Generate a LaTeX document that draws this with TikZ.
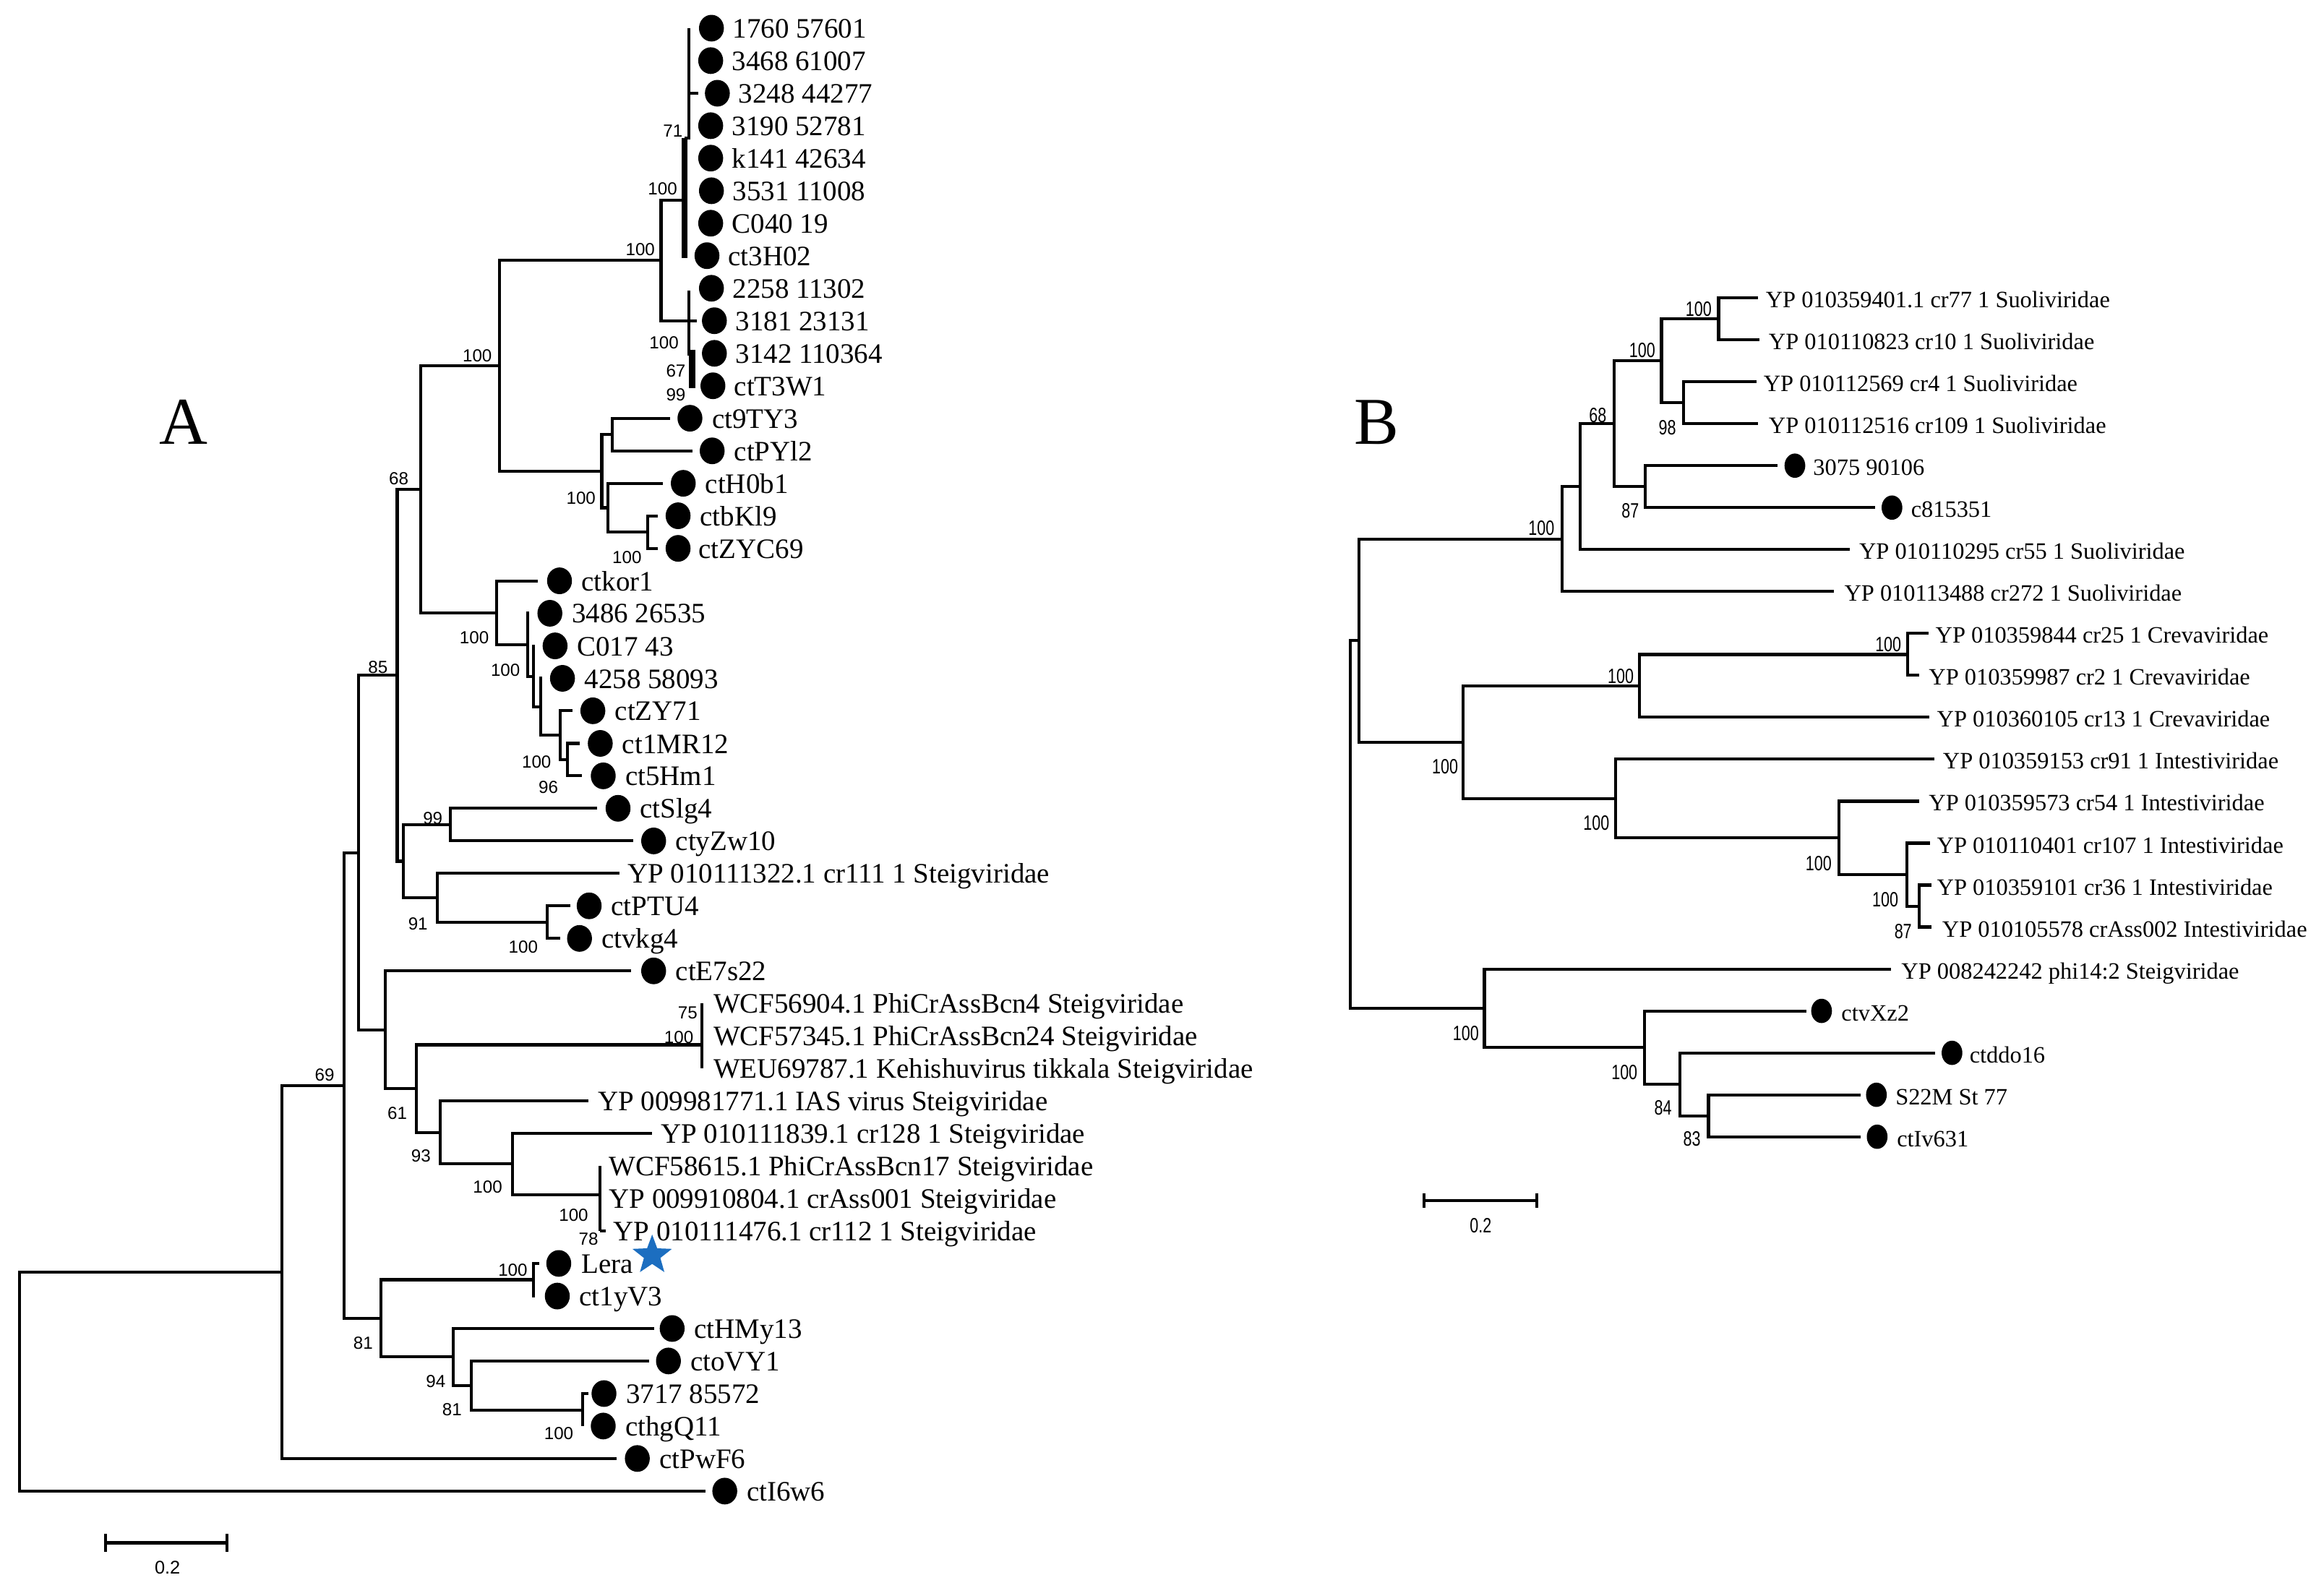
\documentclass[tikz,border=0pt]{standalone}
\usepackage{fontspec}
\setmainfont{Liberation Serif}
\newfontfamily\bootfont{Liberation Sans}
\newfontfamily\bootfontnarrow[FakeStretch=0.75]{Liberation Sans}
\usetikzlibrary{shapes.geometric}
\definecolor{starblue}{RGB}{28,110,192}

\begin{document}
\begin{tikzpicture}[x=0.5pt,y=-0.5pt]
    % Define the styles for the branches, tips and labels
    \tikzstyle{branch}=[line width=1pt]
    \tikzstyle{thickbranch}=[line width=2pt]
    \tikzstyle{tipdot}=[ellipse, fill=black, inner sep=0pt, minimum width=8.4pt, minimum height=9pt]
    \tikzstyle{tipdotb}=[ellipse, fill=black, inner sep=0pt, minimum width=7pt, minimum height=8.2pt]
    \tikzstyle{taxon}=[anchor=west, inner sep=0pt, text height=0.66em, text depth=0pt, font=\fontsize{9.5}{10}\selectfont]
    \tikzstyle{taxonb}=[anchor=west, inner sep=0pt, text height=0.66em, text depth=0pt, font=\fontsize{7.9}{9}\selectfont]
    \tikzstyle{boot}=[inner sep=0pt, text height=0.72em, text depth=0pt, font=\bootfont\fontsize{5.9}{6}\selectfont]
    \tikzstyle{bootb}=[inner sep=0pt, text height=0.72em, text depth=0pt, font=\bootfontnarrow\fontsize{7}{7}\selectfont]
    \tikzstyle{panel}=[inner sep=0pt, font=\fontsize{22.6}{24}\selectfont]

    \useasboundingbox (0,0) rectangle (1568,1071.5);

    % Panel letters
    \node[panel] (panel_a) at (124,285) {A};
    \node[panel] (panel_b) at (929,285) {B};

    % Tree A: internal nodes
    \coordinate (root_a) at (13,932.2);
    \coordinate (a_ingroup) at (190,858.3);
    \coordinate (a_b69) at (232,732.5);
    \coordinate (a_upper) at (242,575.3);
    \coordinate (a_b85) at (268,455.6);
    \coordinate (a_b68) at (284,330.1);
    \coordinate (a_top) at (337,246.7);
    \coordinate (a_crown) at (446,175.5);
    \coordinate (a_crown_up) at (462,135);
    \coordinate (a_crown_lo) at (465,216.4);
    \coordinate (a_py) at (406,317.9);
    \coordinate (a_py1) at (413,293.2);
    \coordinate (a_py2) at (410,342.6);
    \coordinate (a_bk) at (437,359.0);
    \coordinate (a_kor) at (335,413.5);
    \coordinate (a_kor1) at (356,435.1);
    \coordinate (a_kor2) at (360,456.4);
    \coordinate (a_kor3) at (365,476.9);
    \coordinate (a_kor4) at (378,496.1);
    \coordinate (a_kor5) at (383,512.6);
    \coordinate (a_slg) at (272,581.1);
    \coordinate (a_slg1) at (304,556.4);
    \coordinate (a_b91) at (295,605.8);
    \coordinate (a_vk) at (369,622.2);
    \coordinate (a_e7) at (260,694.9);
    \coordinate (a_b61) at (281,734.6);
    \coordinate (a_phi) at (473.5,705);
    \coordinate (a_b93) at (297,764.2);
    \coordinate (a_crass) at (346,785.4);
    \coordinate (a_crass1) at (405,806);
    \coordinate (a_b81) at (257,889.6);
    \coordinate (a_lera) at (360,863.5);
    \coordinate (a_b94) at (306,915.6);
    \coordinate (a_b81b) at (318,934.8);
    \coordinate (a_hg) at (393,951.3);

    % Tree A: tips
    \coordinate (c71_top) at (465,19.0);
    \coordinate (c71_mid) at (465,62.9);
    \coordinate (c71_base) at (462,93);
    \coordinate (crown_up_end) at (462,174);
    \coordinate (s3248_44277_tip) at (471,62.9);
    \coordinate (crown_lo_top) at (465,196);
    \coordinate (crown_lo_mid) at (465,240);
    \coordinate (crown_lo_thick) at (467,236);
    \coordinate (crown_lo_end) at (467,262);
    \coordinate (s3181_23131_tip) at (470,216.4);
    \coordinate (ct9TY3_tip) at (452,282.2);
    \coordinate (ctPYl2_tip) at (467,304.2);
    \coordinate (ctH0b1_tip) at (447,326.1);
    \coordinate (ctbKl9_tip) at (444,348.0);
    \coordinate (ctZYC69_tip) at (444,370.0);
    \coordinate (ctkor1_tip) at (363,391.9);
    \coordinate (s3486_26535_tip) at (357,413.8);
    \coordinate (C017_43_tip) at (361,435.8);
    \coordinate (s4258_58093_tip) at (366,457.7);
    \coordinate (ctZY71_tip) at (386.5,479.6);
    \coordinate (ct1MR12_tip) at (391,501.6);
    \coordinate (ct5Hm1_tip) at (392.5,523.5);
    \coordinate (ctSlg4_tip) at (403,545.4);
    \coordinate (ctyZw10_tip) at (427,567.4);
    \coordinate (cr111_tip) at (418,589.3);
    \coordinate (ctPTU4_tip) at (385,611.2);
    \coordinate (ctvkg4_tip) at (378,633.2);
    \coordinate (ctE7s22_tip) at (426,655.1);
    \coordinate (bcn4_tip) at (473.5,677.1);
    \coordinate (tikkala_tip) at (473.5,720.9);
    \coordinate (ias_tip) at (397,742.9);
    \coordinate (cr128_tip) at (440,764.8);
    \coordinate (bcn17_tip) at (405,786.7);
    \coordinate (cr112_base) at (405,830.6);
    \coordinate (cr112_tip) at (408.5,830.6);
    \coordinate (Lera_tip) at (364,852.5);
    \coordinate (ct1yV3_tip) at (361,874.5);
    \coordinate (ctHMy13_tip) at (441.5,896.4);
    \coordinate (ctoVY1_tip) at (438,918.3);
    \coordinate (s3717_85572_tip) at (397,940.3);
    \coordinate (cthgQ11_tip) at (393,962.2);
    \coordinate (ctPwF6_tip) at (416,984.1);
    \coordinate (ctI6w6_tip) at (476,1006.1);

    % Draw the branches of tree A
    \draw[branch] (root_a) |- (a_ingroup);
    \draw[branch] (root_a) |- (ctI6w6_tip);
    \draw[branch] (a_ingroup) |- (a_b69);
    \draw[branch] (a_ingroup) |- (ctPwF6_tip);
    \draw[branch] (a_b69) |- (a_upper);
    \draw[branch] (a_b69) |- (a_b81);
    \draw[branch] (a_upper) |- (a_b85);
    \draw[branch] (a_upper) |- (a_e7);
    \draw[branch] (a_b85) |- (a_b68);
    \draw[branch] (a_b85) |- (a_slg);
    \draw[branch] (a_b68) |- (a_top);
    \draw[branch] (a_b68) |- (a_kor);
    \draw[branch] (a_top) |- (a_crown);
    \draw[branch] (a_top) |- (a_py);
    \draw[branch] (a_crown) |- (a_crown_up);
    \draw[branch] (a_crown) |- (a_crown_lo);
    \draw[thickbranch] (c71_base) -- (crown_up_end);
    \draw[branch] (c71_top) |- (c71_base);
    \draw[branch] (c71_mid) -- (s3248_44277_tip);
    \draw[branch] (crown_lo_top) -- (crown_lo_mid);
    \draw[thickbranch] (crown_lo_thick) -- (crown_lo_end);
    \draw[branch] (a_crown_lo) -- (s3181_23131_tip);
    \draw[branch] (a_py) |- (a_py1);
    \draw[branch] (a_py) |- (a_py2);
    \draw[branch] (a_py1) |- (ct9TY3_tip);
    \draw[branch] (a_py1) |- (ctPYl2_tip);
    \draw[branch] (a_py2) |- (ctH0b1_tip);
    \draw[branch] (a_py2) |- (a_bk);
    \draw[branch] (a_bk) |- (ctbKl9_tip);
    \draw[branch] (a_bk) |- (ctZYC69_tip);
    \draw[branch] (a_kor) |- (ctkor1_tip);
    \draw[branch] (a_kor) |- (a_kor1);
    \draw[branch] (a_kor1) |- (s3486_26535_tip);
    \draw[branch] (a_kor1) |- (a_kor2);
    \draw[branch] (a_kor2) |- (C017_43_tip);
    \draw[branch] (a_kor2) |- (a_kor3);
    \draw[branch] (a_kor3) |- (s4258_58093_tip);
    \draw[branch] (a_kor3) |- (a_kor4);
    \draw[branch] (a_kor4) |- (ctZY71_tip);
    \draw[branch] (a_kor4) |- (a_kor5);
    \draw[branch] (a_kor5) |- (ct1MR12_tip);
    \draw[branch] (a_kor5) |- (ct5Hm1_tip);
    \draw[branch] (a_slg) |- (a_slg1);
    \draw[branch] (a_slg) |- (a_b91);
    \draw[branch] (a_slg1) |- (ctSlg4_tip);
    \draw[branch] (a_slg1) |- (ctyZw10_tip);
    \draw[branch] (a_b91) |- (cr111_tip);
    \draw[branch] (a_b91) |- (a_vk);
    \draw[branch] (a_vk) |- (ctPTU4_tip);
    \draw[branch] (a_vk) |- (ctvkg4_tip);
    \draw[branch] (a_e7) |- (ctE7s22_tip);
    \draw[branch] (a_e7) |- (a_b61);
    \draw[branch] (a_b61) |- (a_phi);
    \draw[branch] (a_b61) |- (a_b93);
    \draw[branch] (bcn4_tip) -- (tikkala_tip);
    \draw[branch] (a_b93) |- (ias_tip);
    \draw[branch] (a_b93) |- (a_crass);
    \draw[branch] (a_crass) |- (cr128_tip);
    \draw[branch] (a_crass) |- (a_crass1);
    \draw[branch] (bcn17_tip) -- (cr112_base);
    \draw[branch] (cr112_base) -- (cr112_tip);
    \draw[branch] (a_b81) |- (a_lera);
    \draw[branch] (a_b81) |- (a_b94);
    \draw[branch] (a_lera) |- (Lera_tip);
    \draw[branch] (a_lera) |- (ct1yV3_tip);
    \draw[branch] (a_b94) |- (ctHMy13_tip);
    \draw[branch] (a_b94) |- (a_b81b);
    \draw[branch] (a_b81b) |- (ctoVY1_tip);
    \draw[branch] (a_b81b) |- (a_hg);
    \draw[branch] (a_hg) |- (s3717_85572_tip);
    \draw[branch] (a_hg) |- (cthgQ11_tip);

    % Draw the tips of tree A
    \node[tipdot] (s1760_57601) at (480,19.0) {};
    \node[taxon] (s1760_57601_label) at (494,19.0) {1760 57601};
    \node[tipdot] (s3468_61007) at (479.5,40.9) {};
    \node[taxon] (s3468_61007_label) at (493.5,40.9) {3468 61007};
    \node[tipdot] (s3248_44277) at (484,62.9) {};
    \node[taxon] (s3248_44277_label) at (498,62.9) {3248 44277};
    \node[tipdot] (s3190_52781) at (479.5,84.8) {};
    \node[taxon] (s3190_52781_label) at (493.5,84.8) {3190 52781};
    \node[tipdot] (k141_42634) at (479.5,106.7) {};
    \node[taxon] (k141_42634_label) at (493.5,106.7) {k141 42634};
    \node[tipdot] (s3531_11008) at (480,128.7) {};
    \node[taxon] (s3531_11008_label) at (494,128.7) {3531 11008};
    \node[tipdot] (C040_19) at (479.5,150.6) {};
    \node[taxon] (C040_19_label) at (493.5,150.6) {C040 19};
    \node[tipdot] (ct3H02) at (477,172.5) {};
    \node[taxon] (ct3H02_label) at (491,172.5) {ct3H02};
    \node[tipdot] (s2258_11302) at (480,194.5) {};
    \node[taxon] (s2258_11302_label) at (494,194.5) {2258 11302};
    \node[tipdot] (s3181_23131) at (482,216.4) {};
    \node[taxon] (s3181_23131_label) at (496,216.4) {3181 23131};
    \node[tipdot] (s3142_110364) at (482,238.4) {};
    \node[taxon] (s3142_110364_label) at (496,238.4) {3142 110364};
    \node[tipdot] (ctT3W1) at (481,260.3) {};
    \node[taxon] (ctT3W1_label) at (495,260.3) {ctT3W1};
    \node[tipdot] (ct9TY3) at (465.5,282.2) {};
    \node[taxon] (ct9TY3_label) at (480,282.2) {ct9TY3};
    \node[tipdot] (ctPYl2) at (480.5,304.2) {};
    \node[taxon] (ctPYl2_label) at (495,304.2) {ctPYl2};
    \node[tipdot] (ctH0b1) at (461,326.1) {};
    \node[taxon] (ctH0b1_label) at (475.5,326.1) {ctH0b1};
    \node[tipdot] (ctbKl9) at (457.5,348.0) {};
    \node[taxon] (ctbKl9_label) at (472,348.0) {ctbKl9};
    \node[tipdot] (ctZYC69) at (457.5,370.0) {};
    \node[taxon] (ctZYC69_label) at (471,370.0) {ctZYC69};
    \node[tipdot] (ctkor1) at (377.5,391.9) {};
    \node[taxon] (ctkor1_label) at (392,391.9) {ctkor1};
    \node[tipdot] (s3486_26535) at (371,413.8) {};
    \node[taxon] (s3486_26535_label) at (385.5,413.8) {3486 26535};
    \node[tipdot] (C017_43) at (374.5,435.8) {};
    \node[taxon] (C017_43_label) at (389,435.8) {C017 43};
    \node[tipdot] (s4258_58093) at (379.5,457.7) {};
    \node[taxon] (s4258_58093_label) at (394,457.7) {4258 58093};
    \node[tipdot] (ctZY71) at (400,479.6) {};
    \node[taxon] (ctZY71_label) at (414.5,479.6) {ctZY71};
    \node[tipdot] (ct1MR12) at (405,501.6) {};
    \node[taxon] (ct1MR12_label) at (419.5,501.6) {ct1MR12};
    \node[tipdot] (ct5Hm1) at (407,523.5) {};
    \node[taxon] (ct5Hm1_label) at (421.5,523.5) {ct5Hm1};
    \node[tipdot] (ctSlg4) at (417,545.4) {};
    \node[taxon] (ctSlg4_label) at (431.5,545.4) {ctSlg4};
    \node[tipdot] (ctyZw10) at (441,567.4) {};
    \node[taxon] (ctyZw10_label) at (455.5,567.4) {ctyZw10};
    \node[taxon] (cr111_label) at (423,589.3) {YP 010111322.1 cr111 1 Steigviridae};
    \node[tipdot] (ctPTU4) at (397.5,611.2) {};
    \node[taxon] (ctPTU4_label) at (412,611.2) {ctPTU4};
    \node[tipdot] (ctvkg4) at (391,633.2) {};
    \node[taxon] (ctvkg4_label) at (405.5,633.2) {ctvkg4};
    \node[tipdot] (ctE7s22) at (441,655.1) {};
    \node[taxon] (ctE7s22_label) at (455.5,655.1) {ctE7s22};
    \node[taxon] (bcn4_label) at (481,677.1) {WCF56904.1 PhiCrAssBcn4 Steigviridae};
    \node[taxon] (bcn24_label) at (481,699.0) {WCF57345.1 PhiCrAssBcn24 Steigviridae};
    \node[taxon] (tikkala_label) at (481,720.9) {WEU69787.1 Kehishuvirus tikkala Steigviridae};
    \node[taxon] (ias_label) at (403,742.9) {YP 009981771.1 IAS virus Steigviridae};
    \node[taxon] (cr128_label) at (445.5,764.8) {YP 010111839.1 cr128 1 Steigviridae};
    \node[taxon] (bcn17_label) at (410.5,786.7) {WCF58615.1 PhiCrAssBcn17 Steigviridae};
    \node[taxon] (crass001_label) at (410.5,808.7) {YP 009910804.1 crAss001 Steigviridae};
    \node[taxon] (cr112_label) at (413.5,830.6) {YP 010111476.1 cr112 1 Steigviridae};
    \node[tipdot] (Lera) at (377,852.5) {};
    \node[taxon] (Lera_label) at (392,852.5) {Lera};
    \node[star, star points=5, star point ratio=2.4, fill=starblue, inner sep=0pt, minimum size=14pt] (lera_star) at (440,847) {};
    \node[tipdot] (ct1yV3) at (376,874.5) {};
    \node[taxon] (ct1yV3_label) at (390.5,874.5) {ct1yV3};
    \node[tipdot] (ctHMy13) at (453.5,896.4) {};
    \node[taxon] (ctHMy13_label) at (468,896.4) {ctHMy13};
    \node[tipdot] (ctoVY1) at (451,918.3) {};
    \node[taxon] (ctoVY1_label) at (465.5,918.3) {ctoVY1};
    \node[tipdot] (s3717_85572) at (407.5,940.3) {};
    \node[taxon] (s3717_85572_label) at (422,940.3) {3717 85572};
    \node[tipdot] (cthgQ11) at (407,962.2) {};
    \node[taxon] (cthgQ11_label) at (421.5,962.2) {cthgQ11};
    \node[tipdot] (ctPwF6) at (430,984.1) {};
    \node[taxon] (ctPwF6_label) at (444.5,984.1) {ctPwF6};
    \node[tipdot] (ctI6w6) at (489,1006.1) {};
    \node[taxon] (ctI6w6_label) at (503.5,1006.1) {ctI6w6};

    % Bootstrap values of tree A
    \node[boot] (bs_a71) at (454,85) {71};
    \node[boot] (bs_a100a) at (447,124) {100};
    \node[boot] (bs_a100b) at (432,165) {100};
    \node[boot] (bs_a100c) at (448,228) {100};
    \node[boot] (bs_a67) at (456,247) {67};
    \node[boot] (bs_a99a) at (456,263) {99};
    \node[boot] (bs_a100d) at (322,237) {100};
    \node[boot] (bs_a68) at (269,320) {68};
    \node[boot] (bs_a100e) at (392,333) {100};
    \node[boot] (bs_a100f) at (423,373) {100};
    \node[boot] (bs_a100g) at (320,427) {100};
    \node[boot] (bs_a100h) at (341,449) {100};
    \node[boot] (bs_a85) at (255,447) {85};
    \node[boot] (bs_a100i) at (362,511) {100};
    \node[boot] (bs_a96) at (370,528) {96};
    \node[boot] (bs_a99b) at (292,549) {99};
    \node[boot] (bs_a91) at (282,620) {91};
    \node[boot] (bs_a100j) at (353,636) {100};
    \node[boot] (bs_a75) at (464,680) {75};
    \node[boot] (bs_a100k) at (458,697) {100};
    \node[boot] (bs_a69) at (219,722) {69};
    \node[boot] (bs_a61) at (268,748) {61};
    \node[boot] (bs_a93) at (284,777) {93};
    \node[boot] (bs_a100l) at (329,798) {100};
    \node[boot] (bs_a100m) at (387,817) {100};
    \node[boot] (bs_a78) at (397,833) {78};
    \node[boot] (bs_a100n) at (346,854) {100};
    \node[boot] (bs_a81a) at (245,903) {81};
    \node[boot] (bs_a94) at (294,929) {94};
    \node[boot] (bs_a81b) at (305,948) {81};
    \node[boot] (bs_a100o) at (377,964) {100};

    % Scale bar of tree A
    \coordinate (scale_a_left) at (71,1041);
    \coordinate (scale_a_right) at (153,1041);
    \draw[branch] (scale_a_left) -- (scale_a_right);
    \draw[branch] ([yshift=3pt]scale_a_left) -- ([yshift=-3pt]scale_a_left);
    \draw[branch] ([yshift=3pt]scale_a_right) -- ([yshift=-3pt]scale_a_right);
    \node[boot, font=\bootfont\fontsize{6.2}{7}\selectfont] (scale_a_label) at (113,1055) {0.2};

    % Tree B: internal nodes
    \coordinate (root_b) at (911,556.3);
    \coordinate (b_upper) at (917,432.3);
    \coordinate (b_suo) at (1054,363.8);
    \coordinate (b_suo1) at (1066,328.4);
    \coordinate (b_suo2) at (1089,286);
    \coordinate (b_suo3) at (1121,243.5);
    \coordinate (b_cr77) at (1159.5,215.2);
    \coordinate (b_cr4) at (1136,271.8);
    \coordinate (b_c815) at (1110,328.4);
    \coordinate (b_crev_int) at (987,500.8);
    \coordinate (b_crev) at (1106,462.8);
    \coordinate (b_cr25) at (1287,441.6);
    \coordinate (b_int) at (1090,538.8);
    \coordinate (b_int1) at (1240.8,565.4);
    \coordinate (b_int2) at (1286.6,590.1);
    \coordinate (b_int3) at (1295,611.4);
    \coordinate (b_lower) at (1001.5,680.3);
    \coordinate (b_ct1) at (1109.6,706.9);
    \coordinate (b_ct2) at (1133.6,731.6);
    \coordinate (b_ct3) at (1152.7,752.9);

    % Tree B: tips
    \coordinate (cr77_tip) at (1186,201.0);
    \coordinate (cr10_tip) at (1187,229.3);
    \coordinate (cr4_tip) at (1185,257.6);
    \coordinate (cr109_tip) at (1186,285.9);
    \coordinate (s3075_90106_tip) at (1199.5,314.2);
    \coordinate (c815351_tip) at (1265,342.5);
    \coordinate (cr55_tip) at (1248,370.8);
    \coordinate (cr272_tip) at (1237.5,399.1);
    \coordinate (cr25_tip) at (1301,427.4);
    \coordinate (cr2_tip) at (1295,455.7);
    \coordinate (cr13_tip) at (1301.5,484.0);
    \coordinate (cr91_tip) at (1305,512.3);
    \coordinate (cr54_tip) at (1295,540.6);
    \coordinate (cr107_tip) at (1302,568.9);
    \coordinate (cr36_tip) at (1303,597.2);
    \coordinate (crAss002_tip) at (1303,625.5);
    \coordinate (phi14_tip) at (1276,653.8);
    \coordinate (ctvXz2_tip) at (1218.6,682.1);
    \coordinate (ctddo16_tip) at (1305.6,710.4);
    \coordinate (S22M_tip) at (1255.6,738.7);
    \coordinate (ctIv631_tip) at (1255.6,767.0);

    % Draw the branches of tree B
    \draw[branch] (root_b) |- (b_upper);
    \draw[branch] (root_b) |- (b_lower);
    \draw[branch] (b_upper) |- (b_suo);
    \draw[branch] (b_upper) |- (b_crev_int);
    \draw[branch] (b_suo) |- (b_suo1);
    \draw[branch] (b_suo) |- (cr272_tip);
    \draw[branch] (b_suo1) |- (b_suo2);
    \draw[branch] (b_suo1) |- (cr55_tip);
    \draw[branch] (b_suo2) |- (b_suo3);
    \draw[branch] (b_suo2) |- (b_c815);
    \draw[branch] (b_suo3) |- (b_cr77);
    \draw[branch] (b_suo3) |- (b_cr4);
    \draw[branch] (b_cr77) |- (cr77_tip);
    \draw[branch] (b_cr77) |- (cr10_tip);
    \draw[branch] (b_cr4) |- (cr4_tip);
    \draw[branch] (b_cr4) |- (cr109_tip);
    \draw[branch] (b_c815) |- (s3075_90106_tip);
    \draw[branch] (b_c815) |- (c815351_tip);
    \draw[branch] (b_crev_int) |- (b_crev);
    \draw[branch] (b_crev_int) |- (b_int);
    \draw[branch] (b_crev) |- (b_cr25);
    \draw[branch] (b_crev) |- (cr13_tip);
    \draw[branch] (b_cr25) |- (cr25_tip);
    \draw[branch] (b_cr25) |- (cr2_tip);
    \draw[branch] (b_int) |- (cr91_tip);
    \draw[branch] (b_int) |- (b_int1);
    \draw[branch] (b_int1) |- (cr54_tip);
    \draw[branch] (b_int1) |- (b_int2);
    \draw[branch] (b_int2) |- (cr107_tip);
    \draw[branch] (b_int2) |- (b_int3);
    \draw[branch] (b_int3) |- (cr36_tip);
    \draw[branch] (b_int3) |- (crAss002_tip);
    \draw[branch] (b_lower) |- (phi14_tip);
    \draw[branch] (b_lower) |- (b_ct1);
    \draw[branch] (b_ct1) |- (ctvXz2_tip);
    \draw[branch] (b_ct1) |- (b_ct2);
    \draw[branch] (b_ct2) |- (ctddo16_tip);
    \draw[branch] (b_ct2) |- (b_ct3);
    \draw[branch] (b_ct3) |- (S22M_tip);
    \draw[branch] (b_ct3) |- (ctIv631_tip);

    % Draw the tips of tree B
    \node[taxonb] (cr77_label) at (1191,201.0) {YP 010359401.1 cr77 1 Suoliviridae};
    \node[taxonb] (cr10_label) at (1193,229.3) {YP 010110823 cr10 1 Suoliviridae};
    \node[taxonb] (cr4_label) at (1189.5,257.6) {YP 010112569 cr4 1 Suoliviridae};
    \node[taxonb] (cr109_label) at (1193,285.9) {YP 010112516 cr109 1 Suoliviridae};
    \node[tipdotb] (s3075_90106) at (1211,314.2) {};
    \node[taxonb] (s3075_90106_label) at (1223,314.2) {3075 90106};
    \node[tipdotb] (c815351) at (1276.5,342.5) {};
    \node[taxonb] (c815351_label) at (1289,342.5) {c815351};
    \node[taxonb] (cr55_label) at (1254,370.8) {YP 010110295 cr55 1 Suoliviridae};
    \node[taxonb] (cr272_label) at (1244,399.1) {YP 010113488 cr272 1 Suoliviridae};
    \node[taxonb] (cr25_label) at (1305.5,427.4) {YP 010359844 cr25 1 Crevaviridae};
    \node[taxonb] (cr2_label) at (1301,455.7) {YP 010359987 cr2 1 Crevaviridae};
    \node[taxonb] (cr13_label) at (1306.5,484.0) {YP 010360105 cr13 1 Crevaviridae};
    \node[taxonb] (cr91_label) at (1310.5,512.3) {YP 010359153 cr91 1 Intestiviridae};
    \node[taxonb] (cr54_label) at (1301,540.6) {YP 010359573 cr54 1 Intestiviridae};
    \node[taxonb] (cr107_label) at (1306.5,568.9) {YP 010110401 cr107 1 Intestiviridae};
    \node[taxonb] (cr36_label) at (1306.5,597.2) {YP 010359101 cr36 1 Intestiviridae};
    \node[taxonb] (crAss002_label) at (1310,625.5) {YP 010105578 crAss002 Intestiviridae};
    \node[taxonb] (phi14_label) at (1282.5,653.8) {YP 008242242 phi14:2 Steigviridae};
    \node[tipdotb] (ctvXz2) at (1229,682.1) {};
    \node[taxonb] (ctvXz2_label) at (1242,682.1) {ctvXz2};
    \node[tipdotb] (ctddo16) at (1317,710.4) {};
    \node[taxonb] (ctddo16_label) at (1328.5,710.4) {ctddo16};
    \node[tipdotb] (S22M) at (1266,738.7) {};
    \node[taxonb] (S22M_label) at (1278.5,738.7) {S22M St 77};
    \node[tipdotb] (ctIv631) at (1266.5,767.0) {};
    \node[taxonb] (ctIv631_label) at (1279.5,767.0) {ctIv631};

    % Bootstrap values of tree B
    \node[bootb] (bs_b100a) at (1146,206) {100};
    \node[bootb] (bs_b100b) at (1108,234) {100};
    \node[bootb] (bs_b98) at (1125,286) {98};
    \node[bootb] (bs_b68) at (1078,278) {68};
    \node[bootb] (bs_b87a) at (1100,342) {87};
    \node[bootb] (bs_b100c) at (1040,354) {100};
    \node[bootb] (bs_b100d) at (1274,432.6) {100};
    \node[bootb] (bs_b100e) at (1093.5,454) {100};
    \node[bootb] (bs_b100f) at (975,515) {100};
    \node[bootb] (bs_b100g) at (1077,553) {100};
    \node[bootb] (bs_b100h) at (1227,580) {100};
    \node[bootb] (bs_b100i) at (1272,604.5) {100};
    \node[bootb] (bs_b87b) at (1284,626) {87};
    \node[bootb] (bs_b100j) at (989,695) {100};
    \node[bootb] (bs_b100k) at (1096,721) {100};
    \node[bootb] (bs_b84) at (1122,745) {84};
    \node[bootb] (bs_b83) at (1141.5,766) {83};

    % Scale bar of tree B
    \coordinate (scale_b_left) at (960.6,810);
    \coordinate (scale_b_right) at (1036.7,810);
    \draw[branch] (scale_b_left) -- (scale_b_right);
    \draw[branch] ([yshift=2.5pt]scale_b_left) -- ([yshift=-2.5pt]scale_b_left);
    \draw[branch] ([yshift=2.5pt]scale_b_right) -- ([yshift=-2.5pt]scale_b_right);
    \node[bootb] (scale_b_label) at (999,824.5) {0.2};
\end{tikzpicture}
\end{document}
